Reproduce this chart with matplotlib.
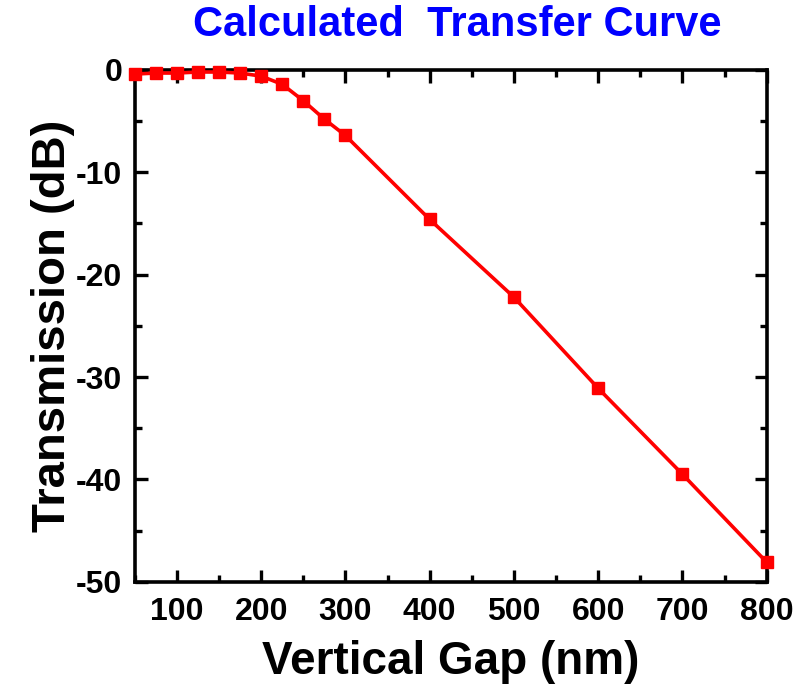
import matplotlib as mpl
import matplotlib.pyplot as plt
from matplotlib.ticker import MultipleLocator

mpl.rcParams.update({
    "font.family": ["Liberation Sans", "DejaVu Sans"],
    "font.weight": "bold",
    "xtick.direction": "in",
    "ytick.direction": "in",
})

gap_nm = [50, 75, 100, 125, 150, 175, 200, 225, 250, 275, 300, 400, 500, 600, 700, 800]
trans_db = [-0.4, -0.3, -0.3, -0.2, -0.2, -0.3, -0.6, -1.4, -3.0, -4.8, -6.4,
            -14.6, -22.2, -31.1, -39.5, -48.1]

RED = "#FF0000"

fig = plt.figure(figsize=(8.02, 6.86), dpi=100, facecolor="white")
ax = fig.add_axes([0.168, 0.152, 0.788, 0.746])

ax.plot(gap_nm, trans_db, color=RED, lw=2.6, marker="s", ms=9, mec=RED, mfc=RED,
        clip_on=False, zorder=5)

ax.set_xlim(50, 800)
ax.set_ylim(-50, 0)
ax.xaxis.set_minor_locator(MultipleLocator(50))
ax.yaxis.set_minor_locator(MultipleLocator(5))
ax.tick_params(which="both", top=True, right=True, width=2.4, labelsize=23)
ax.tick_params(axis="x", pad=11)
ax.tick_params(axis="y", pad=9)
ax.tick_params(which="major", length=9)
ax.tick_params(which="minor", length=5)
for s in ax.spines.values():
    s.set_linewidth(2.6)

ax.set_xticks([100, 200, 300, 400, 500, 600, 700, 800])
ax.set_yticks([0, -10, -20, -30, -40, -50])
ax.set_yticklabels(["0", "-10", "-20", "-30", "-40", "-50"])

ax.set_xlabel("Vertical Gap (nm)", fontsize=33, fontweight="bold", labelpad=9)
ax.set_ylabel("Transmission (dB)", fontsize=34, fontweight="bold", labelpad=1)
fig.text(0.57, 0.963, "Calculated  Transfer Curve", ha="center", va="center",
         fontsize=30, fontweight="bold", color="#0000FF")

fig.savefig("out.png", dpi=100, facecolor="white")
